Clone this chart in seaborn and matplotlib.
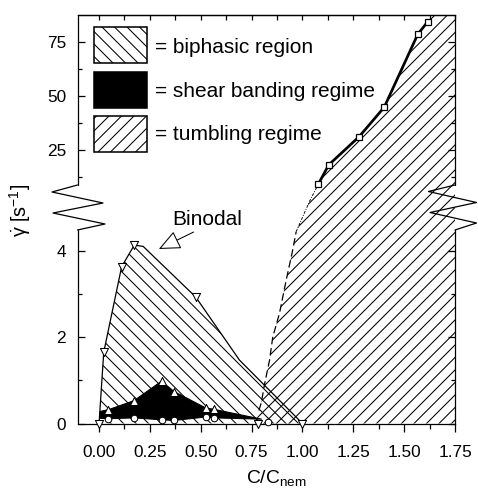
import numpy as np
import matplotlib
matplotlib.use('Agg')
import matplotlib.pyplot as plt
import matplotlib.transforms as mtransforms
from matplotlib.patches import Rectangle
from matplotlib.lines import Line2D
import seaborn as sns

# ---- values ----
# binodal line (open down-triangles)
binodal_x = [0.0, 0.023, 0.111, 0.173, 0.217, 0.475, 0.69, 1.0]
binodal_y = [0.0, 1.65, 3.63, 4.13, 4.10, 2.93, 1.47, 0.0]
binodal_mark_x = [0.0, 0.023, 0.111, 0.173, 0.475, 0.78, 1.0]
binodal_mark_y = [0.0, 1.65, 3.63, 4.13, 2.93, 0.0, 0.0]

# shear banding regime: upper limit (up-triangles), lower limit (circles)
band_hi_x = [0.046, 0.172, 0.307, 0.369, 0.525, 0.564]
band_hi_y = [0.32, 0.53, 0.98, 0.74, 0.36, 0.33]
band_lo_x = [0.046, 0.172, 0.307, 0.369, 0.525, 0.564, 0.83]
band_lo_y = [0.11, 0.13, 0.085, 0.07, 0.15, 0.13, 0.03]
band_left = (0.005, 0.12, 0.28)   # x, bottom, top of the black band at its left end
band_tip = (0.80, 0.10)           # right tip of the black band

# tumbling regime boundary
tumb_x = [1.078, 1.129, 1.279, 1.402, 1.567, 1.616]
tumb_y = [9.2, 18.1, 31.2, 44.8, 78.6, 84.4]
dash_x = [0.77, 0.786, 0.798, 0.814, 0.838, 0.854, 0.887, 0.920, 0.950, 0.969]
dash_y = [0.0, 0.30, 0.49, 0.92, 1.46, 2.0, 2.55, 3.32, 3.97, 4.44]
dot_x = [0.969, 1.034, 1.078]
dot_y = [4.44, 7.2, 9.2]
tumb_top_x = 1.642

legend_labels = ['= biphasic region', '= shear banding regime', '= tumbling regime']

x_major = [0.0, 0.25, 0.5, 0.75, 1.0, 1.25, 1.5, 1.75]
x_major_labels = ['0.00', '0.25', '0.50', '0.75', '1.00', '1.25', '1.50', '1.75']
x_minor = [0.125, 0.375, 0.625, 0.875, 1.125, 1.375, 1.625]
y_major = [0, 2, 4, 25, 50, 75]
y_minor = [1, 3, 12.5, 37.5, 62.5]

# broken y axis: lower part 0..4.48, upper part 8.8..87.5
Y_LO_TOP = 4.48
Y_HI_BOT = 8.8
Y_TOP = 87.5
Y_KNOTS = [-10, 0, Y_LO_TOP, Y_HI_BOT, Y_TOP, 200]
PX_KNOTS = [-432, 0, 193.5, 238.5, 408.5, 651.5]


def y_forward(v):
    return np.interp(v, Y_KNOTS, PX_KNOTS)


def y_inverse(p):
    return np.interp(p, PX_KNOTS, Y_KNOTS)


# ---- style ----
sns.set_theme(style='ticks')
plt.rcParams['font.family'] = ['Liberation Sans', 'DejaVu Sans']
plt.rcParams['mathtext.fontset'] = 'custom'
plt.rcParams['mathtext.rm'] = 'Liberation Sans'
plt.rcParams['mathtext.it'] = 'Liberation Sans:italic'
plt.rcParams['hatch.linewidth'] = 1.0
plt.rcParams['axes.edgecolor'] = 'black'
plt.rcParams['axes.linewidth'] = 1.2
plt.rcParams['xtick.color'] = 'black'
plt.rcParams['ytick.color'] = 'black'
plt.rcParams['text.color'] = 'black'
plt.rcParams['axes.labelcolor'] = 'black'

W, H, DPI = 478, 500, 75
fig = plt.figure(figsize=(W / DPI, H / DPI), dpi=DPI)
ax = fig.add_axes([77.5 / W, 76.5 / H, 377.5 / W, 408.5 / H])
ax.set_yscale('function', functions=(y_forward, y_inverse))
ax.set_xlim(-0.106, 1.75)
ax.set_ylim(0, Y_TOP)

# biphasic region (binodal down to the axis)
ax.fill(binodal_x, binodal_y, facecolor='none', edgecolor='black', lw=0,
        hatch='\\\\', zorder=1)

# tumbling regime
tx = dash_x + dot_x[1:] + tumb_x[1:] + [tumb_top_x, 1.75, 1.75]
ty = dash_y + dot_y[1:] + tumb_y[1:] + [Y_TOP, Y_TOP, 0.0]
ax.fill(tx, ty, facecolor='none', edgecolor='black', lw=0, hatch='//', zorder=1)

# shear banding regime (solid black)
bx = [band_left[0]] + band_hi_x + [band_tip[0]] + band_lo_x[:6][::-1] + [band_left[0]]
by = [band_left[2]] + band_hi_y + [band_tip[1]] + band_lo_y[:6][::-1] + [band_left[1]]
ax.fill(bx, by, facecolor='black', edgecolor='black', lw=1.0, zorder=2)

# boundary lines
sns.lineplot(x=binodal_x, y=binodal_y, sort=False, estimator=None, color='black',
             lw=1.2, ax=ax, zorder=3)
ax.plot(dash_x[1:], dash_y[1:], color='black', lw=1.2, ls=(0, (6, 3)), zorder=3)
ax.plot(dot_x, dot_y, color='black', lw=0.9, ls=(0, (3, 1.5, 1, 1.5)), zorder=3)
sns.lineplot(x=tumb_x, y=tumb_y, sort=False, estimator=None, color='black', lw=2.6,
             marker='s', markersize=6.5, markerfacecolor='white',
             markeredgecolor='black', markeredgewidth=1.2, ax=ax, zorder=4)

# markers
mk = dict(color='white', edgecolor='black', linewidth=1.0, zorder=5, clip_on=False,
          legend=False, ax=ax)
sns.scatterplot(x=binodal_mark_x, y=binodal_mark_y, marker='v', s=60, **mk)
sns.scatterplot(x=band_hi_x, y=band_hi_y, marker='^', s=60, **mk)
sns.scatterplot(x=band_lo_x, y=band_lo_y, marker='o', s=40, **mk)

# annotation
ax.annotate('Binodal', xy=(0.294, 4.04), xytext=(0.358, 4.96), textcoords='data',
            fontsize=20, ha='left', va='baseline',
            arrowprops=dict(arrowstyle='-|>,head_length=0.9,head_width=0.4',
                            fc='white', ec='black', lw=1.0, relpos=(0.4, 0.0),
                            shrinkA=1, shrinkB=0))

# legend drawn as boxes + text
box_styles = [dict(facecolor='white', hatch='\\\\'),
              dict(facecolor='black'),
              dict(facecolor='white', hatch='//')]
box_bottoms = [0.8825, 0.7723, 0.6646]
text_bases = [0.907, 0.7993, 0.694]
for lab, st, yb, yt in zip(legend_labels, box_styles, box_bottoms, text_bases):
    ax.add_patch(Rectangle((0.0438, yb), 0.1404, 0.0881, transform=ax.transAxes,
                           edgecolor='black', lw=1.5, zorder=6, **st))
    ax.text(0.2056, yt, lab, transform=ax.transAxes, fontsize=20,
            ha='left', va='baseline', zorder=6)

# ticks
ax.set_xticks(x_major, x_major_labels)
ax.set_xticks(x_minor, minor=True)
ax.set_yticks(y_major, [str(v) for v in y_major])
ax.set_yticks(y_minor, minor=True)
ax.tick_params(axis='x', which='major', direction='out', length=7.5, width=1.2,
               labelsize=16.5, pad=13, top=False)
ax.tick_params(axis='x', which='minor', direction='out', length=5, width=1.2, top=False)
ax.tick_params(axis='y', which='major', direction='in', length=6.5, width=1.2,
               labelsize=16.5, pad=11, left=True, right=True)
ax.tick_params(axis='y', which='minor', direction='in', length=4, width=1.2,
               left=True, right=True)

sec = ax.secondary_xaxis('top')
sec.set_xticks(x_major)
sec.set_xticks(x_minor, minor=True)
sec.tick_params(which='both', direction='in', length=5, width=1.2, labeltop=False)
sec.spines['top'].set_linewidth(1.2)

# broken left/right spines
ax.spines['left'].set_visible(False)
ax.spines['right'].set_visible(False)
blend = mtransforms.blended_transform_factory(ax.transAxes, ax.transData)
for xs in (0, 1):
    ax.plot([xs, xs], [0, Y_LO_TOP], color='black', lw=1.2, transform=blend,
            clip_on=False, zorder=7)
    ax.plot([xs, xs], [Y_HI_BOT, Y_TOP], color='black', lw=1.2, transform=blend,
            clip_on=False, zorder=7)

# zigzag break marks (figure pixels)
zig_left = [(77.5, 185), (52, 192), (103, 203), (53, 213), (105, 224), (77.5, 230)]
zig_right = [(455, 185), (428.5, 191.5), (476.5, 202.5), (430, 212.5), (476.5, 223), (455, 230)]
for zz in (zig_left, zig_right):
    fig.add_artist(Line2D([p[0] / W for p in zz], [1 - p[1] / H for p in zz],
                          color='black', lw=1.2, transform=fig.transFigure))

ax.set_xlabel('C/C$_{\\mathrm{nem}}$', fontsize=18.5, labelpad=8, x=0.527)
ax.set_ylabel('$\\mathrm{\\dot{\\gamma}}$ [s$^{-1}$]', fontsize=19)
ax.yaxis.set_label_coords(-0.118, 0.5226)

fig.savefig('out.png', dpi=DPI)
